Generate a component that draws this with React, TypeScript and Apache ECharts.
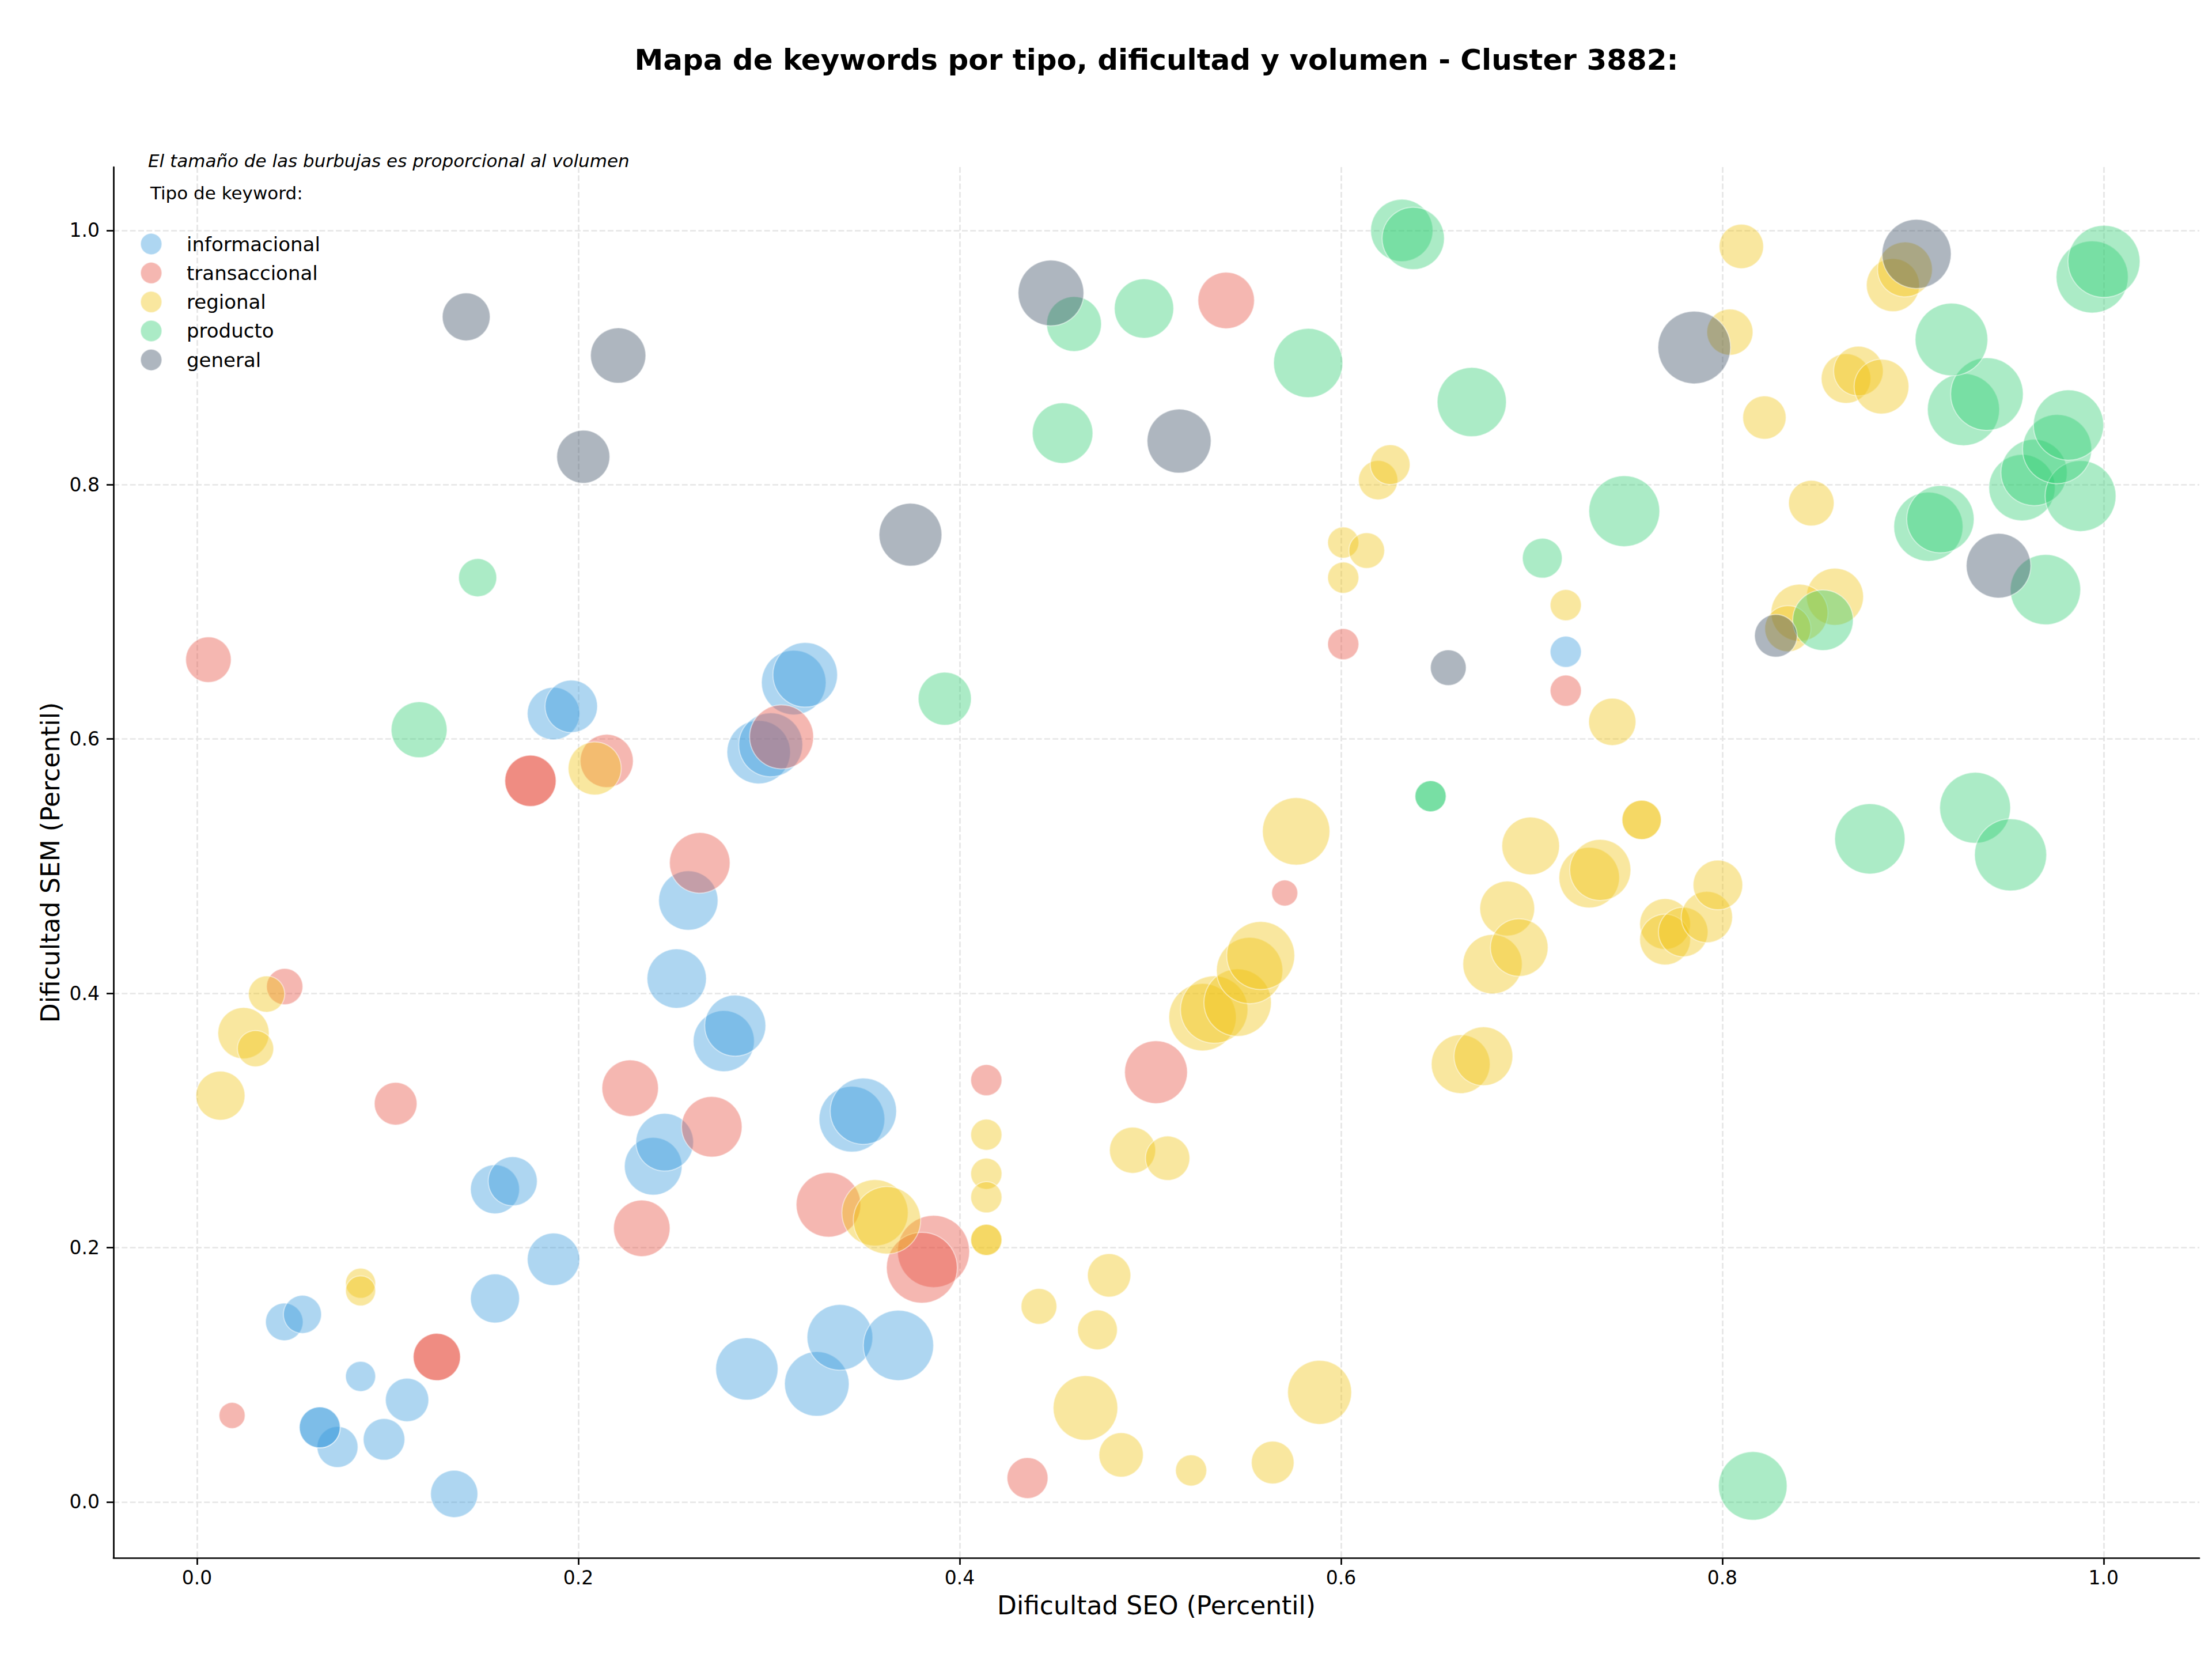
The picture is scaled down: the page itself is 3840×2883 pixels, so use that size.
import React, { useEffect, useRef } from "react";
import * as echarts from "echarts";

const TITLE = "Mapa de keywords por tipo, dificultad y volumen - Cluster 3882:";
const NOTE = "El tamaño de las burbujas es proporcional al volumen";
const LEGEND_TITLE = "Tipo de keyword:";
const X_LABEL = "Dificultad SEO (Percentil)";
const Y_LABEL = "Dificultad SEM (Percentil)";
const TICKS = [0, 0.2, 0.4, 0.6, 0.8, 1.0];
const TYPES = ["informacional", "transaccional", "regional", "producto", "general"];
const COLORS = ["#3498db", "#e74c3c", "#f1c40f", "#2ecc71", "#34495e"];

// [dificultad SEO, dificultad SEM, volumen]
const informacional = [
  [0.1349, 0.0063, 1680], [0.0737, 0.0432, 1260], [0.0981, 0.0492, 1300],
  [0.0644, 0.0586, 1260], [0.0644, 0.0586, 1260], [0.1102, 0.0802, 1410],
  [0.0858, 0.0987, 680], [0.0458, 0.1416, 1060], [0.0553, 0.1475, 1090],
  [0.1563, 0.16, 1810], [0.187, 0.1908, 2070], [0.1563, 0.2459, 1810],
  [0.1656, 0.2522, 1810], [0.2393, 0.264, 2500], [0.2453, 0.2829, 2500],
  [0.2763, 0.3624, 2810], [0.2823, 0.3746, 2810], [0.2516, 0.4116, 2650],
  [0.2577, 0.473, 2650], [0.2884, 0.1046, 2920], [0.3251, 0.0928, 3140],
  [0.3372, 0.1294, 3250], [0.3679, 0.1231, 3720], [0.3435, 0.301, 3250],
  [0.3495, 0.3073, 3310], [0.187, 0.62, 2070], [0.1963, 0.6257, 2070],
  [0.2946, 0.5897, 3030], [0.3009, 0.5954, 3080], [0.313, 0.6444, 3140],
  [0.319, 0.6505, 3140], [0.7179, 0.6686, 730],
];

const transaccional = [
  [0.0184, 0.068, 510], [0.1258, 0.114, 1680], [0.1258, 0.114, 1680],
  [0.1042, 0.3132, 1370], [0.046, 0.4053, 990], [0.006, 0.6624, 1560],
  [0.1749, 0.5671, 1980], [0.1749, 0.5671, 1980], [0.2149, 0.5828, 2120],
  [0.2333, 0.2152, 2400], [0.2272, 0.3254, 2400], [0.27, 0.295, 2760],
  [0.2637, 0.5026, 2760], [0.3066, 0.6017, 3080], [0.3312, 0.2337, 3140],
  [0.3863, 0.197, 3910], [0.3802, 0.1842, 3780], [0.414, 0.3317, 730],
  [0.4356, 0.0188, 1260], [0.503, 0.338, 2970], [0.5705, 0.4789, 510],
  [0.6012, 0.6746, 730], [0.7179, 0.638, 730], [0.5398, 0.9449, 2400],
];

const regional = [
  [0.0123, 0.3195, 1810], [0.0244, 0.3687, 1980], [0.0307, 0.3565, 990],
  [0.0365, 0.3994, 990], [0.0858, 0.172, 680], [0.0858, 0.166, 680],
  [0.2086, 0.5769, 2120], [0.3556, 0.2274, 3310], [0.3619, 0.2215, 3420],
  [0.414, 0.2888, 730], [0.414, 0.2581, 730], [0.414, 0.2396, 730],
  [0.414, 0.2061, 730], [0.414, 0.2061, 730], [0.4416, 0.1538, 960],
  [0.4723, 0.1353, 1190], [0.4784, 0.1782, 1410], [0.4907, 0.2766, 1600],
  [0.5091, 0.2703, 1480], [0.466, 0.0739, 3140], [0.4847, 0.037, 1480],
  [0.5214, 0.0248, 730], [0.5642, 0.031, 1370], [0.5888, 0.0862, 3080],
  [0.5274, 0.3812, 3420], [0.5335, 0.3872, 3420], [0.5458, 0.3927, 3420],
  [0.5521, 0.4179, 3310], [0.5579, 0.4297, 3480], [0.5765, 0.5274, 3420],
  [0.6628, 0.3443, 2600], [0.6747, 0.3505, 2600], [0.6795, 0.4229, 2650],
  [0.6872, 0.4667, 2260], [0.6935, 0.436, 2500], [0.6995, 0.5159, 2500],
  [0.7302, 0.491, 2760], [0.736, 0.497, 2810], [0.7423, 0.6135, 1680],
  [0.7577, 0.5364, 1160], [0.7577, 0.5364, 1160], [0.77, 0.4545, 1940],
  [0.77, 0.4423, 1940], [0.7795, 0.4482, 1850], [0.7919, 0.46, 1980],
  [0.7977, 0.4852, 1850], [0.6012, 0.7545, 730], [0.6012, 0.7269, 730],
  [0.6135, 0.7482, 960], [0.6195, 0.8036, 1160], [0.6258, 0.8158, 1190],
  [0.7179, 0.7053, 730], [0.81, 0.9874, 1480], [0.804, 0.92, 1600],
  [0.8221, 0.8528, 1410], [0.8649, 0.8835, 1850], [0.8714, 0.8894, 1850],
  [0.8835, 0.8772, 2260], [0.8895, 0.957, 2120], [0.8958, 0.9693, 2260],
  [0.8467, 0.7855, 1560], [0.8591, 0.7119, 2450], [0.8405, 0.6993, 2450],
  [0.8344, 0.6868, 1600],
];

const producto = [
  [0.1472, 0.7269, 1090], [0.1165, 0.6073, 2350], [0.3922, 0.6317, 2120],
  [0.454, 0.8406, 2760], [0.46, 0.9264, 2260], [0.4967, 0.9386, 2650],
  [0.5828, 0.8957, 3600], [0.6319, 1.0, 2920], [0.6379, 0.9937, 2920],
  [0.6686, 0.865, 3600], [0.647, 0.555, 730], [0.647, 0.555, 730],
  [0.7056, 0.7422, 1190], [0.7486, 0.7792, 3780], [0.816, 0.0126, 3540],
  [0.8774, 0.5215, 3720], [0.9326, 0.5459, 3780], [0.9512, 0.5089, 3910],
  [0.8528, 0.6934, 2760], [0.9081, 0.767, 3600], [0.9144, 0.7729, 3420],
  [0.9695, 0.7175, 3720], [0.9572, 0.7977, 3310], [0.9635, 0.8096, 3310],
  [0.9879, 0.7911, 3780], [0.9756, 0.828, 3600], [0.9816, 0.8469, 3720],
  [0.9265, 0.8591, 3910], [0.9388, 0.8713, 3970], [0.9202, 0.9142, 3970],
  [0.994, 0.9634, 3910], [1.0002, 0.9756, 3910],
];

const general = [
  [0.1412, 0.932, 1720], [0.2209, 0.9016, 2300], [0.2026, 0.822, 2120],
  [0.3742, 0.7607, 2970], [0.4479, 0.9508, 3250], [0.5151, 0.8343, 3080],
  [0.6563, 0.6561, 960], [0.7853, 0.9079, 3970], [0.9019, 0.9815, 3600],
  [0.8281, 0.6812, 1370], [0.9449, 0.7363, 3140],
];

const GROUPS = [informacional, transaccional, regional, producto, general];

function rgba(hex: string, a: number) {
  const n = parseInt(hex.slice(1), 16);
  return `rgba(${(n >> 16) & 255},${(n >> 8) & 255},${n & 255},${a})`;
}

const FONT = "DejaVu Sans";

export default function App() {
  const ref = useRef<HTMLDivElement>(null);
  useEffect(() => {
    if (!ref.current) return;
    const chart = echarts.init(ref.current, undefined, { renderer: "svg" });
    const axisCommon = (name: string, gap: number, labelMargin: number) => ({
      type: "value",
      name,
      nameLocation: "middle",
      nameGap: gap,
      nameTextStyle: { fontSize: 44, color: "#000", fontFamily: FONT },
      axisLine: { show: true, onZero: false, lineStyle: { color: "#000", width: 2.7 } },
      axisTick: { show: true, length: 12, customValues: TICKS, lineStyle: { color: "#000", width: 2.7 } },
      axisLabel: {
        customValues: TICKS,
        formatter: (v: number) => v.toFixed(1),
        fontSize: 33,
        color: "#000",
        margin: labelMargin,
        fontFamily: FONT,
      },
      splitLine: { show: true, lineStyle: { color: "#e6e6e6", width: 2.7, type: [10, 4.3] } },
    });
    chart.setOption({
      animation: false,
      backgroundColor: "#fff",
      grid: { left: 197, right: 22, top: 290, bottom: 179, containLabel: false },
      xAxis: { ...axisCommon(X_LABEL, 60, 18), min: -0.0438, max: 1.0502 },
      yAxis: { ...axisCommon(Y_LABEL, 86, 24), min: -0.044, max: 1.0498, nameRotate: 90 },
      legend: {
        orient: "vertical",
        left: 243,
        top: 404,
        padding: 0,
        itemWidth: 37,
        itemHeight: 37,
        itemGap: 11.3,
        icon: "circle",
        selectedMode: false,
        data: TYPES,
        textStyle: { fontSize: 34, color: "#000", fontFamily: FONT, padding: [0, 0, 0, 38] },
      },
      graphic: [
        {
          type: "text",
          x: 2007.5,
          y: 104,
          style: {
            text: TITLE,
            font: `bold 50px "${FONT}"`,
            fill: "#000",
            textAlign: "center",
            textVerticalAlign: "middle",
          },
        },
        {
          type: "text",
          left: 257,
          top: 263,
          style: { text: NOTE, font: `italic 31px "${FONT}"`, fill: "#000" },
        },
        {
          type: "text",
          left: 261,
          top: 319,
          style: { text: LEGEND_TITLE, font: `31px "${FONT}"`, fill: "#000" },
        },
      ],
      series: GROUPS.map((g, i) => ({
        name: TYPES[i],
        type: "scatter",
        data: g,
        symbolSize: (v: number[]) => 2 * Math.sqrt(v[2]),
        itemStyle: {
          color: rgba(COLORS[i], 0.5),
          borderColor: "rgba(255,255,255,0.6)",
          borderWidth: 2,
        },
        emphasis: { disabled: true },
        silent: true,
      })),
    });
    return () => chart.dispose();
  }, []);
  return (
    <div
      ref={ref}
      style={{ position: "absolute", left: 0, top: 0, width: 3840, height: 2883, background: "#fff" }}
    />
  );
}
